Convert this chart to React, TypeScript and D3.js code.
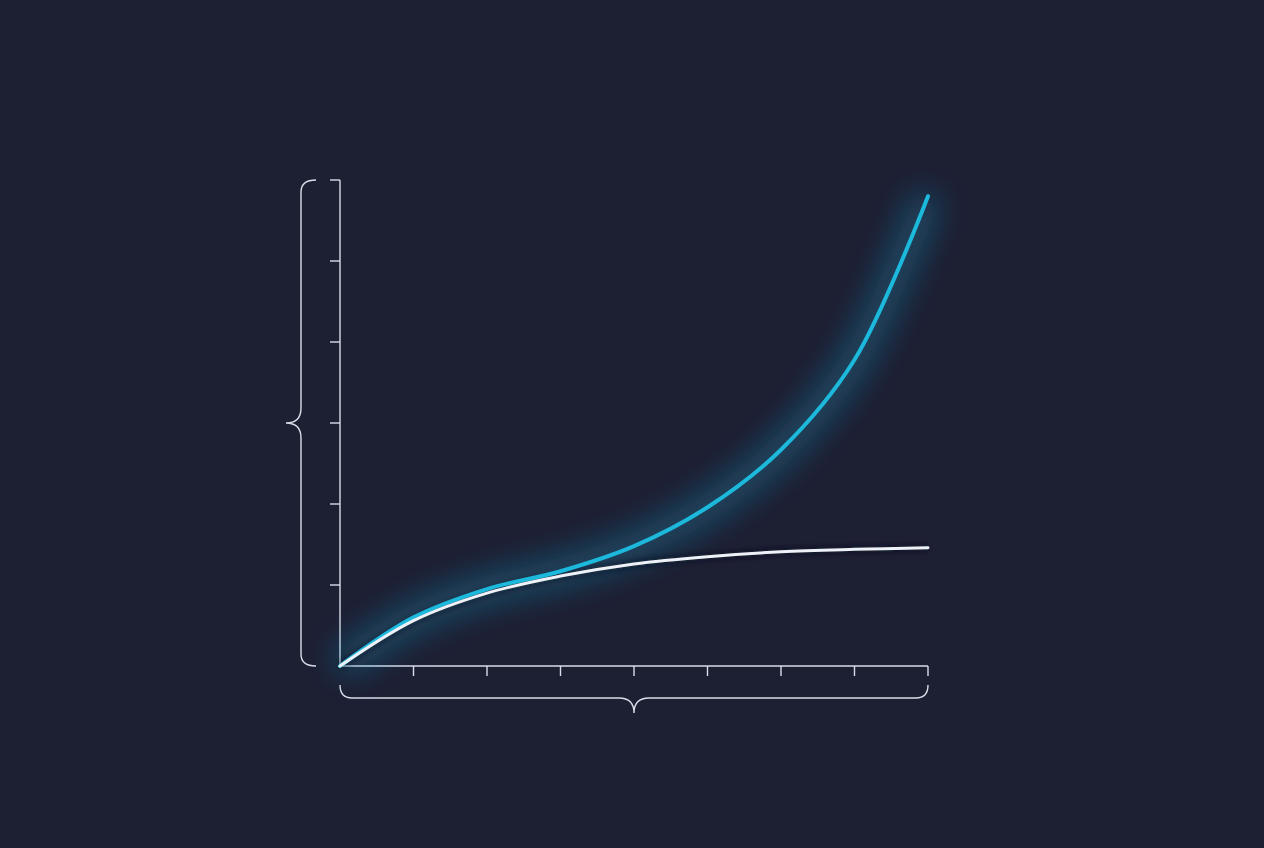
import { useEffect, useRef } from "react";
import * as d3 from "d3";

// x ticks: 0..8, y ticks: 0..6 (no labels in the original)
const xTicks = [0, 1, 2, 3, 4, 5, 6, 7, 8];
const yTicks = [0, 1, 2, 3, 4, 5, 6];

const growth = [0, 0.6, 0.95, 1.17, 1.48, 1.96, 2.67, 3.78, 5.8];
const plateau = [0, 0.56, 0.9, 1.11, 1.26, 1.35, 1.41, 1.44, 1.46];

export default function App() {
  const svgRef = useRef<SVGSVGElement | null>(null);

  useEffect(() => {
    if (!svgRef.current) return;

    const width = 1264;
    const height = 848;
    const margin = { top: 180, right: 336, bottom: 182, left: 340 };

    const svg = d3.select(svgRef.current);
    svg.selectAll("*").remove();
    svg.attr("width", width).attr("height", height);

    const defs = svg.append("defs");
    const glow = defs.append("filter").attr("id", "glow")
      .attr("x", "-50%").attr("y", "-50%").attr("width", "200%").attr("height", "200%");
    glow.append("feGaussianBlur").attr("stdDeviation", 16);

    const softGlow = defs.append("filter").attr("id", "soft")
      .attr("x", "-50%").attr("y", "-50%").attr("width", "200%").attr("height", "200%");
    softGlow.append("feGaussianBlur").attr("stdDeviation", 3);

    svg.append("rect").attr("width", width).attr("height", height).attr("fill", "#1d1f33");

    const x = d3.scaleLinear().domain([0, 8]).range([margin.left, width - margin.right]);
    const y = d3.scaleLinear().domain([0, 6]).range([height - margin.bottom, margin.top]);

    const axisColor = "#d9dde8";

    // y axis
    svg.append("line")
      .attr("x1", x(0)).attr("x2", x(0))
      .attr("y1", y(6)).attr("y2", y(0))
      .attr("stroke", axisColor).attr("stroke-width", 1.4);
    svg.selectAll(".ytick").data(yTicks.slice(1)).join("line")
      .attr("x1", x(0) - 10).attr("x2", x(0))
      .attr("y1", d => y(d)).attr("y2", d => y(d))
      .attr("stroke", axisColor).attr("stroke-width", 1.4);

    // x axis
    svg.append("line")
      .attr("x1", x(0)).attr("x2", x(8))
      .attr("y1", y(0)).attr("y2", y(0))
      .attr("stroke", axisColor).attr("stroke-width", 1.4);
    svg.selectAll(".xtick").data(xTicks.slice(1)).join("line")
      .attr("x1", d => x(d)).attr("x2", d => x(d))
      .attr("y1", y(0)).attr("y2", y(0) + 10)
      .attr("stroke", axisColor).attr("stroke-width", 1.4);

    // left curly brace
    const bx = x(0) - 39;
    const yMid = (y(0) + y(6)) / 2;
    const r = 12;
    const leftBrace = d3.path();
    leftBrace.moveTo(bx + 15, y(6));
    leftBrace.quadraticCurveTo(bx, y(6), bx, y(6) + r);
    leftBrace.lineTo(bx, yMid - 15);
    leftBrace.quadraticCurveTo(bx, yMid, bx - 15, yMid);
    leftBrace.quadraticCurveTo(bx, yMid, bx, yMid + 15);
    leftBrace.lineTo(bx, y(0) - r);
    leftBrace.quadraticCurveTo(bx, y(0), bx + 15, y(0));
    svg.append("path").attr("d", leftBrace.toString())
      .attr("fill", "none").attr("stroke", axisColor).attr("stroke-width", 1.4);

    // bottom curly brace
    const by = y(0) + 32;
    const xMid = (x(0) + x(8)) / 2;
    const bottomBrace = d3.path();
    bottomBrace.moveTo(x(0), by - 13);
    bottomBrace.quadraticCurveTo(x(0), by, x(0) + r, by);
    bottomBrace.lineTo(xMid - 15, by);
    bottomBrace.quadraticCurveTo(xMid, by, xMid, by + 15);
    bottomBrace.quadraticCurveTo(xMid, by, xMid + 15, by);
    bottomBrace.lineTo(x(8) - r, by);
    bottomBrace.quadraticCurveTo(x(8), by, x(8), by - 13);
    svg.append("path").attr("d", bottomBrace.toString())
      .attr("fill", "none").attr("stroke", axisColor).attr("stroke-width", 1.4);

    const line = d3.line<number>()
      .x((_, i) => x(xTicks[i]))
      .y(d => y(d))
      .curve(d3.curveCatmullRom.alpha(0.5));

    // glows
    svg.append("path").datum(growth).attr("d", line)
      .attr("fill", "none").attr("stroke", "#1aa6d0").attr("stroke-width", 28)
      .attr("stroke-opacity", 0.36).attr("filter", "url(#glow)");
    svg.append("path").datum(plateau).attr("d", line)
      .attr("fill", "none").attr("stroke", "#0e1220").attr("stroke-width", 6)
      .attr("stroke-opacity", 0.6).attr("filter", "url(#soft)");

    // lines
    svg.append("path").datum(growth).attr("d", line)
      .attr("fill", "none").attr("stroke", "#1cb9dc").attr("stroke-width", 4)
      .attr("stroke-linecap", "round");
    svg.append("path").datum(plateau).attr("d", line)
      .attr("fill", "none").attr("stroke", "#eef1f8").attr("stroke-width", 3)
      .attr("stroke-linecap", "round");
  }, []);

  return <svg ref={svgRef} style={{ position: "absolute", left: 0, top: 0, display: "block" }} />;
}
